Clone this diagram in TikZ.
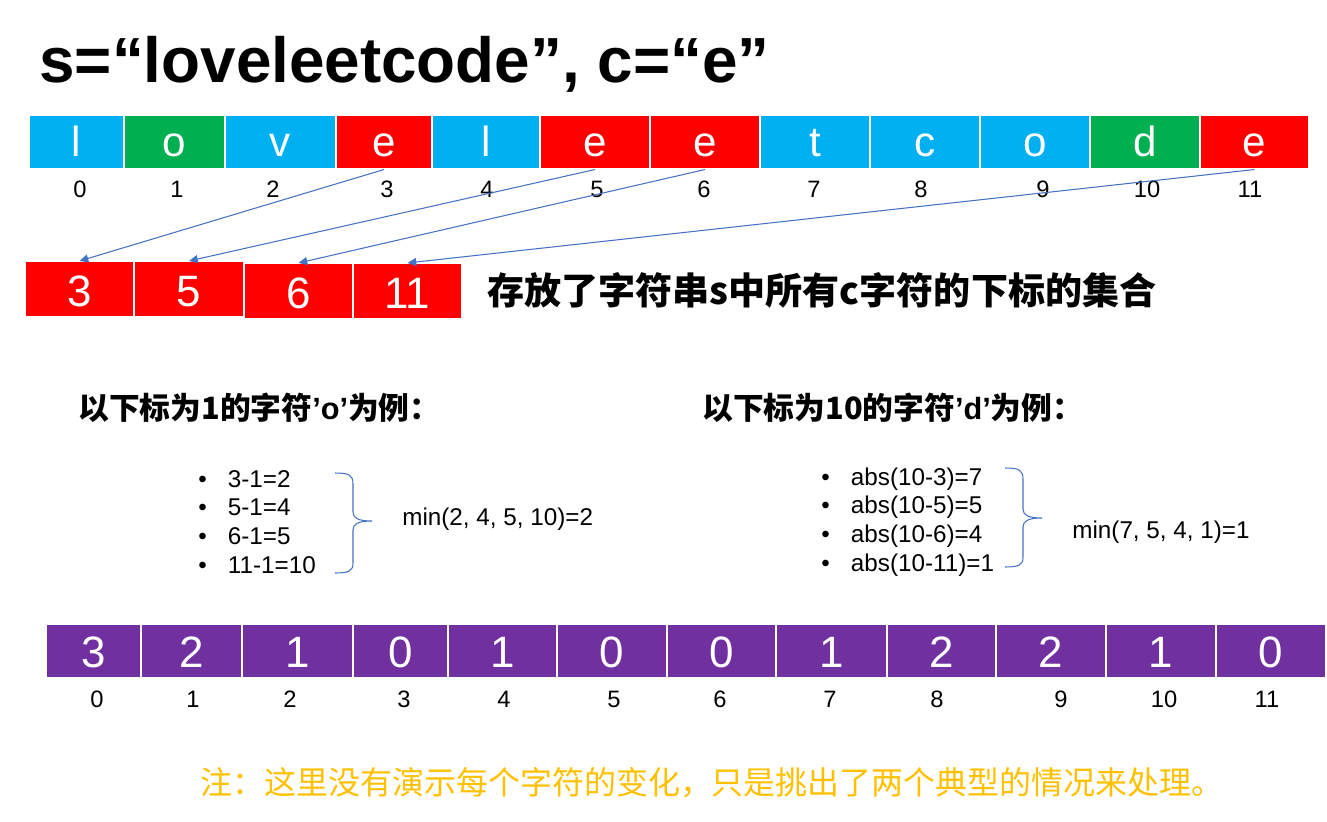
\documentclass[tikz,border=0pt]{standalone}
\usepackage{fontspec}
\setmainfont{Liberation Sans}
\newfontfamily\cjk{Noto Sans CJK SC}
\usetikzlibrary{arrows.meta}

\definecolor{sky}{HTML}{00B0F0}
\definecolor{leaf}{HTML}{00B050}
\definecolor{hit}{HTML}{FF0000}
\definecolor{dist}{HTML}{7030A0}
\definecolor{link}{HTML}{4472C4}
\definecolor{gold}{HTML}{FFC000}

\begin{document}
\begin{tikzpicture}[x=0.02cm,y=-0.02cm]
	\useasboundingbox (0,0) rectangle (1327,821);

	\node[anchor=base west,inner sep=0pt,font=\bfseries\fontsize{36.3}{36.3}\selectfont] (title) at (39,83) {s=“loveleetcode”, c=“e”};

	% the string s
	\begin{scope}[every node/.style={rectangle,draw=white,line width=0.6pt,inner sep=0pt,minimum height=1.08cm,text height=17pt,text depth=0pt,text=white,font=\fontsize{24}{24}\selectfont}]
		\node[fill=sky,minimum width=1.90cm] (c0) at (76.5,142) {l};
		\node[fill=leaf,minimum width=2.02cm] (c1) at (174.5,142) {o};
		\node[fill=sky,minimum width=2.22cm] (c2) at (280.5,142) {v};
		\node[fill=hit,minimum width=1.92cm] (c3) at (384,142) {e};
		\node[fill=sky,minimum width=2.16cm] (c4) at (486,142) {l};
		\node[fill=hit,minimum width=2.2cm] (c5) at (595,142) {e};
		\node[fill=hit,minimum width=2.2cm] (c6) at (705,142) {e};
		\node[fill=sky,minimum width=2.2cm] (c7) at (815,142) {t};
		\node[fill=sky,minimum width=2.2cm] (c8) at (925,142) {c};
		\node[fill=sky,minimum width=2.2cm] (c9) at (1035,142) {o};
		\node[fill=leaf,minimum width=2.2cm] (c10) at (1145,142) {d};
		\node[fill=hit,minimum width=2.18cm] (c11) at (1254.5,142) {e};
	\end{scope}

	\begin{scope}[every node/.style={anchor=base,inner sep=0pt,font=\fontsize{13.5}{13.5}\selectfont}]
		\node (i0) at (80,197) {0};
		\node (i1) at (177,197) {1};
		\node (i2) at (273,197) {2};
		\node (i3) at (387,197) {3};
		\node (i4) at (487,197) {4};
		\node (i5) at (597,197) {5};
		\node (i6) at (704,197) {6};
		\node (i7) at (814,197) {7};
		\node (i8) at (921,197) {8};
		\node (i9) at (1043,197) {9};
		\node (i10) at (1147,197) {10};
		\node (i11) at (1250,197) {11};
	\end{scope}

	% positions of c
	\begin{scope}[every node/.style={rectangle,draw=white,line width=0.6pt,fill=hit,inner sep=0pt,minimum height=1.1cm,text height=19.8pt,text depth=0pt,text=white,font=\fontsize{25}{25}\selectfont}]
		\node[minimum width=2.18cm] (p3) at (79.5,289) {3};
		\node[minimum width=2.2cm] (p5) at (189,289) {5};
		\node[minimum width=2.18cm] (p6) at (298.5,291) {6};
		\node[minimum width=2.18cm] (p11) at (407.5,291) {11};
	\end{scope}
	\node[anchor=west,inner sep=0pt,font=\cjk\bfseries\fontsize{21.1}{21.1}\selectfont] (set) at (487,290) {存放了字符串s中所有c字符的下标的集合};

	\begin{scope}[every edge/.style={draw=link,line width=0.6pt}]
		\path [-{Triangle[length=5pt,width=4.5pt]}] (c3.south) edge (p3.north);
		\path [-{Triangle[length=5pt,width=4.5pt]}] (c5.south) edge (p5.north);
		\path [-{Triangle[length=5pt,width=4.5pt]}] (c6.south) edge (p6.north);
		\path [-{Triangle[length=5pt,width=4.5pt]}] (c11.south) edge (p11.north);
	\end{scope}

	% two examples
	\begin{scope}[every node/.style={anchor=west,inner sep=0pt,font=\cjk\bfseries\fontsize{17.5}{17.5}\selectfont}]
		\node (head1) at (78,408) {以下标为1的字符{\rmfamily ’o’}为例：};
		\node (head2) at (702,408) {以下标为10的字符{\rmfamily ’d’}为例：};
	\end{scope}

	\begin{scope}[every node/.style={anchor=west,align=left,inner sep=0pt,font=\fontsize{13.8}{16.4}\selectfont}]
		\node (ex1) at (198,522) {•\hspace{12pt}3-1=2\\•\hspace{12pt}5-1=4\\•\hspace{12pt}6-1=5\\•\hspace{12pt}11-1=10};
		\node (ex2) at (821,522) {•\hspace{12pt}abs(10-3)=7\\•\hspace{12pt}abs(10-5)=5\\•\hspace{12pt}abs(10-6)=4\\•\hspace{12pt}abs(10-11)=1};
		\node (min1) at (402,519) {min(2, 4, 5, 10)=2};
		\node (min2) at (1072,532) {min(7, 5, 4, 1)=1};
	\end{scope}
	\draw[link,line width=0.6pt] (335,473) .. controls (349,473) and (353,475) .. (353,484) -- (353,512) .. controls (353,518) and (358,521) .. (372,521) .. controls (358,521) and (353,524) .. (353,530) -- (353,563) .. controls (353,571) and (349,573) .. (335,573);
	\draw[link,line width=0.6pt] (1005,468) .. controls (1019,468) and (1023,470) .. (1023,479) -- (1023,509) .. controls (1023,515) and (1028,518) .. (1042,518) .. controls (1028,518) and (1023,521) .. (1023,527) -- (1023,557) .. controls (1023,565) and (1019,567) .. (1005,567);

	% the answer
	\begin{scope}[every node/.style={rectangle,draw=white,line width=0.6pt,fill=dist,inner sep=0pt,minimum height=1.08cm,text height=19.3pt,text depth=0pt,text=white,font=\fontsize{25}{25}\selectfont}]
		\node[minimum width=1.9cm] (d0) at (93.5,651) {3};
		\node[minimum width=2.02cm] (d1) at (191.5,651) {2};
		\node[minimum width=2.22cm] (d2) at (297.5,651) {1};
		\node[minimum width=1.9cm] (d3) at (400.5,651) {0};
		\node[minimum width=2.18cm] (d4) at (502.5,651) {1};
		\node[minimum width=2.2cm] (d5) at (612,651) {0};
		\node[minimum width=2.18cm] (d6) at (721.5,651) {0};
		\node[minimum width=2.22cm] (d7) at (831.5,651) {1};
		\node[minimum width=2.18cm] (d8) at (941.5,651) {2};
		\node[minimum width=2.2cm] (d9) at (1051,651) {2};
		\node[minimum width=2.2cm] (d10) at (1161,651) {1};
		\node[minimum width=2.2cm] (d11) at (1271,651) {0};
	\end{scope}

	\begin{scope}[every node/.style={anchor=base,inner sep=0pt,font=\fontsize{13.5}{13.5}\selectfont}]
		\node (j0) at (97,707) {0};
		\node (j1) at (193,707) {1};
		\node (j2) at (290,707) {2};
		\node (j3) at (404,707) {3};
		\node (j4) at (504,707) {4};
		\node (j5) at (614,707) {5};
		\node (j6) at (720,707) {6};
		\node (j7) at (830,707) {7};
		\node (j8) at (937,707) {8};
		\node (j9) at (1061,707) {9};
		\node (j10) at (1164,707) {10};
		\node (j11) at (1267,707) {11};
	\end{scope}

	\node[anchor=west,inner sep=0pt,text=gold,font=\cjk\fontsize{18.2}{18.2}\selectfont] (note) at (200,783) {注：这里没有演示每个字符的变化，只是挑出了两个典型的情况来处理。};
\end{tikzpicture}
\end{document}
